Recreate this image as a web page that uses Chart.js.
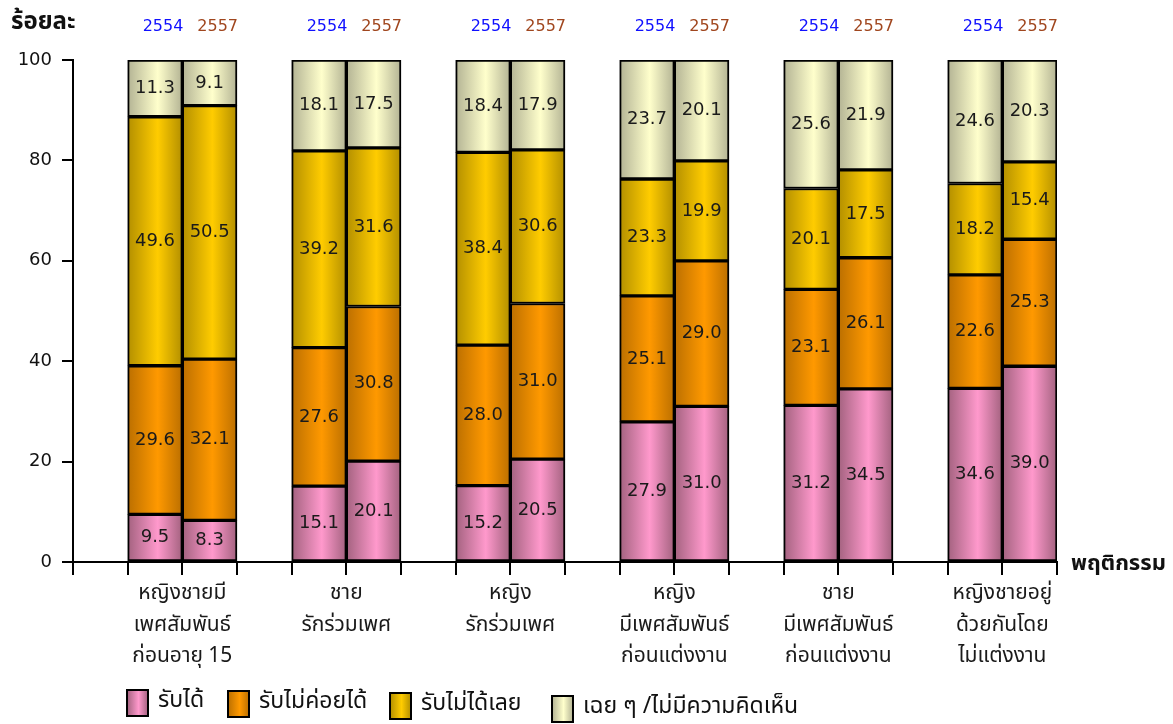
<!DOCTYPE html>
<html lang="th">
<head>
<meta charset="utf-8">
<script src="https://cdn.jsdelivr.net/npm/chart.js@4.4.1/dist/chart.umd.min.js"></script>
<style>
    html, body { margin: 0; padding: 0; background: #fff; }
    #wrap { width: 1173px; height: 724px; position: relative; }
</style>
</head>
<body>
<div id="wrap"><canvas id="chart" width="1173" height="724"></canvas></div>
<script>
// ========== ข้อมูล ==========
const groupLabels = [
    ['หญิงชายมี', 'เพศสัมพันธ์', 'ก่อนอายุ 15'],
    ['ชาย', 'รักร่วมเพศ'],
    ['หญิง', 'รักร่วมเพศ'],
    ['หญิง', 'มีเพศสัมพันธ์', 'ก่อนแต่งงาน'],
    ['ชาย', 'มีเพศสัมพันธ์', 'ก่อนแต่งงาน'],
    ['หญิงชายอยู่', 'ด้วยกันโดย', 'ไม่แต่งงาน']
];
const years = ['2554', '2557'];
const seriesNames = ['รับได้', 'รับไม่ค่อยได้', 'รับไม่ได้เลย', 'เฉย ๆ /ไม่มีความคิดเห็น'];

// ค่าของแต่ละกลุ่ม: [2554, 2557]
const accept      = [[9.5, 8.3],   [15.1, 20.1], [15.2, 20.5], [27.9, 31.0], [31.2, 34.5], [34.6, 39.0]];
const hardAccept  = [[29.6, 32.1], [27.6, 30.8], [28.0, 31.0], [25.1, 29.0], [23.1, 26.1], [22.6, 25.3]];
const notAccept   = [[49.6, 50.5], [39.2, 31.6], [38.4, 30.6], [23.3, 19.9], [20.1, 17.5], [18.2, 15.4]];
const noOpinion   = [[11.3, 9.1],  [18.1, 17.5], [18.4, 17.9], [23.7, 20.1], [25.6, 21.9], [24.6, 20.3]];

const yTicks = [0, 20, 40, 60, 80, 100];

// สี: [ขอบมืด, กลางสว่าง]
const colors = [
    ['#a3627f', '#ff99cc'],
    ['#bb6f00', '#ff9900'],
    ['#b38f00', '#ffcc00'],
    ['#b3b394', '#ffffcc']
];
const yearColors = ['#1010ff', '#a0461e'];
const FONT = '"DejaVu Sans", "Noto Sans Thai", sans-serif';
const THAI = '"Noto Sans Thai", Tahoma, "DejaVu Sans", sans-serif';

// แต่ละกลุ่มใช้ 3 ช่อง: ว่าง, 2554, 2557
function toSlots(arr) {
    const out = [];
    arr.forEach(pair => { out.push(null, pair[0], pair[1]); });
    return out;
}
const slotLabels = [];
groupLabels.forEach(() => { slotLabels.push('', years[0], years[1]); });

function barFill(idx) {
    return function(ctx) {
        const chart = ctx.chart;
        const x = chart.scales.x;
        if (!x || !chart.chartArea || ctx.dataIndex === undefined) return colors[idx][1];
        const c = x.getPixelForValue(ctx.dataIndex);
        const half = x.width / slotLabels.length / 2;
        const g = chart.ctx.createLinearGradient(c - half, 0, c + half, 0);
        g.addColorStop(0, colors[idx][0]);
        g.addColorStop(0.55, colors[idx][1]);
        g.addColorStop(1, colors[idx][0]);
        return g;
    };
}

const allSeries = [accept, hardAccept, notAccept, noOpinion];
const datasets = allSeries.map((s, i) => ({
    label: seriesNames[i],
    data: toSlots(s),
    backgroundColor: barFill(i),
    borderColor: '#000',
    borderWidth: 2,
    borderSkipped: false,
    barPercentage: 1,
    categoryPercentage: 1
}));

// ป้ายค่า ปี ชื่อแกน และคำอธิบาย
const annotatePlugin = {
    id: 'annotate',
    afterDatasetsDraw(chart) {
        const ctx = chart.ctx;
        ctx.save();
        ctx.textAlign = 'center';
        ctx.textBaseline = 'middle';
        ctx.fillStyle = '#1a1a1a';
        ctx.font = '18px ' + FONT;
        chart.data.datasets.forEach((ds, di) => {
            const meta = chart.getDatasetMeta(di);
            meta.data.forEach((bar, i) => {
                const v = ds.data[i];
                if (v === null) return;
                const mid = (bar.y + bar.base) / 2;
                ctx.fillText(v.toFixed(1), bar.x, mid);
            });
        });

        // ปีเหนือแท่ง
        const x = chart.scales.x;
        ctx.font = '16px ' + FONT;
        slotLabels.forEach((lab, i) => {
            if (!lab) return;
            ctx.fillStyle = yearColors[years.indexOf(lab)];
            ctx.fillText(lab, x.getPixelForValue(i) + 8, 27);
        });

        // ชื่อแกน
        ctx.fillStyle = '#111';
        ctx.textAlign = 'left';
        ctx.font = 'bold 24px ' + THAI;
        ctx.fillText('ร้อยละ', 11, 24);
        ctx.font = 'bold 22px ' + THAI;
        ctx.fillText('พฤติกรรม', 1071, 566);

        // คำอธิบายสัญลักษณ์
        const legendX = [127, 228, 390, 552];
        const legendY = [690, 691, 693, 696];
        ctx.font = '23px ' + THAI;
        seriesNames.forEach((name, i) => {
            const bx = legendX[i], by = legendY[i];
            const g = ctx.createLinearGradient(bx, 0, bx + 21, 0);
            g.addColorStop(0, colors[i][0]);
            g.addColorStop(0.55, colors[i][1]);
            g.addColorStop(1, colors[i][0]);
            ctx.fillStyle = g;
            ctx.fillRect(bx, by, 21, 26);
            ctx.lineWidth = 2;
            ctx.strokeStyle = '#000';
            ctx.strokeRect(bx, by, 21, 26);
            ctx.fillStyle = '#111';
            ctx.fillText(name, bx + 31, by + 12);
        });
        ctx.restore();
    }
};

new Chart(document.getElementById('chart'), {
    type: 'bar',
    data: { labels: slotLabels, datasets: datasets },
    options: {
        responsive: false,
        animation: false,
        layout: { padding: { left: 0, top: 60, right: 116, bottom: 0 } },
        plugins: {
            legend: { display: false },
            tooltip: { enabled: false }
        },
        scales: {
            x: {
                stacked: true,
                display: false
            },
            x2: {
                type: 'linear',
                position: 'bottom',
                offset: false,
                min: 0,
                max: slotLabels.length,
                afterBuildTicks: function(axis) {
                    axis.ticks = slotLabels.map((_, i) => ({ value: i })).concat([{ value: slotLabels.length }]);
                },
                afterFit: function(axis) { axis.height = 162; },
                grid: {
                    offset: false,
                    drawOnChartArea: false,
                    drawTicks: true,
                    tickLength: 13,
                    color: '#000',
                    lineWidth: 2
                },
                border: { color: '#000', width: 2 },
                ticks: {
                    autoSkip: false,
                    maxRotation: 0,
                    padding: 4,
                    color: '#1a1a1a',
                    font: { family: THAI, size: 21, lineHeight: 1.5 },
                    callback: function(value) {
                        if (value % 3 === 2) return groupLabels[(value - 2) / 3];
                        return '';
                    }
                }
            },
            y: {
                stacked: true,
                min: 0,
                max: 100,
                afterBuildTicks: function(axis) {
                    axis.ticks = yTicks.map(v => ({ value: v }));
                },
                afterFit: function(axis) { axis.width = 73; },
                grid: {
                    drawOnChartArea: false,
                    drawTicks: true,
                    tickLength: 11,
                    color: '#000',
                    lineWidth: 2
                },
                border: { color: '#000', width: 2 },
                ticks: {
                    padding: 10,
                    color: '#111',
                    font: { family: FONT, size: 18 }
                }
            }
        }
    },
    plugins: [annotatePlugin]
});
</script>
</body>
</html>
